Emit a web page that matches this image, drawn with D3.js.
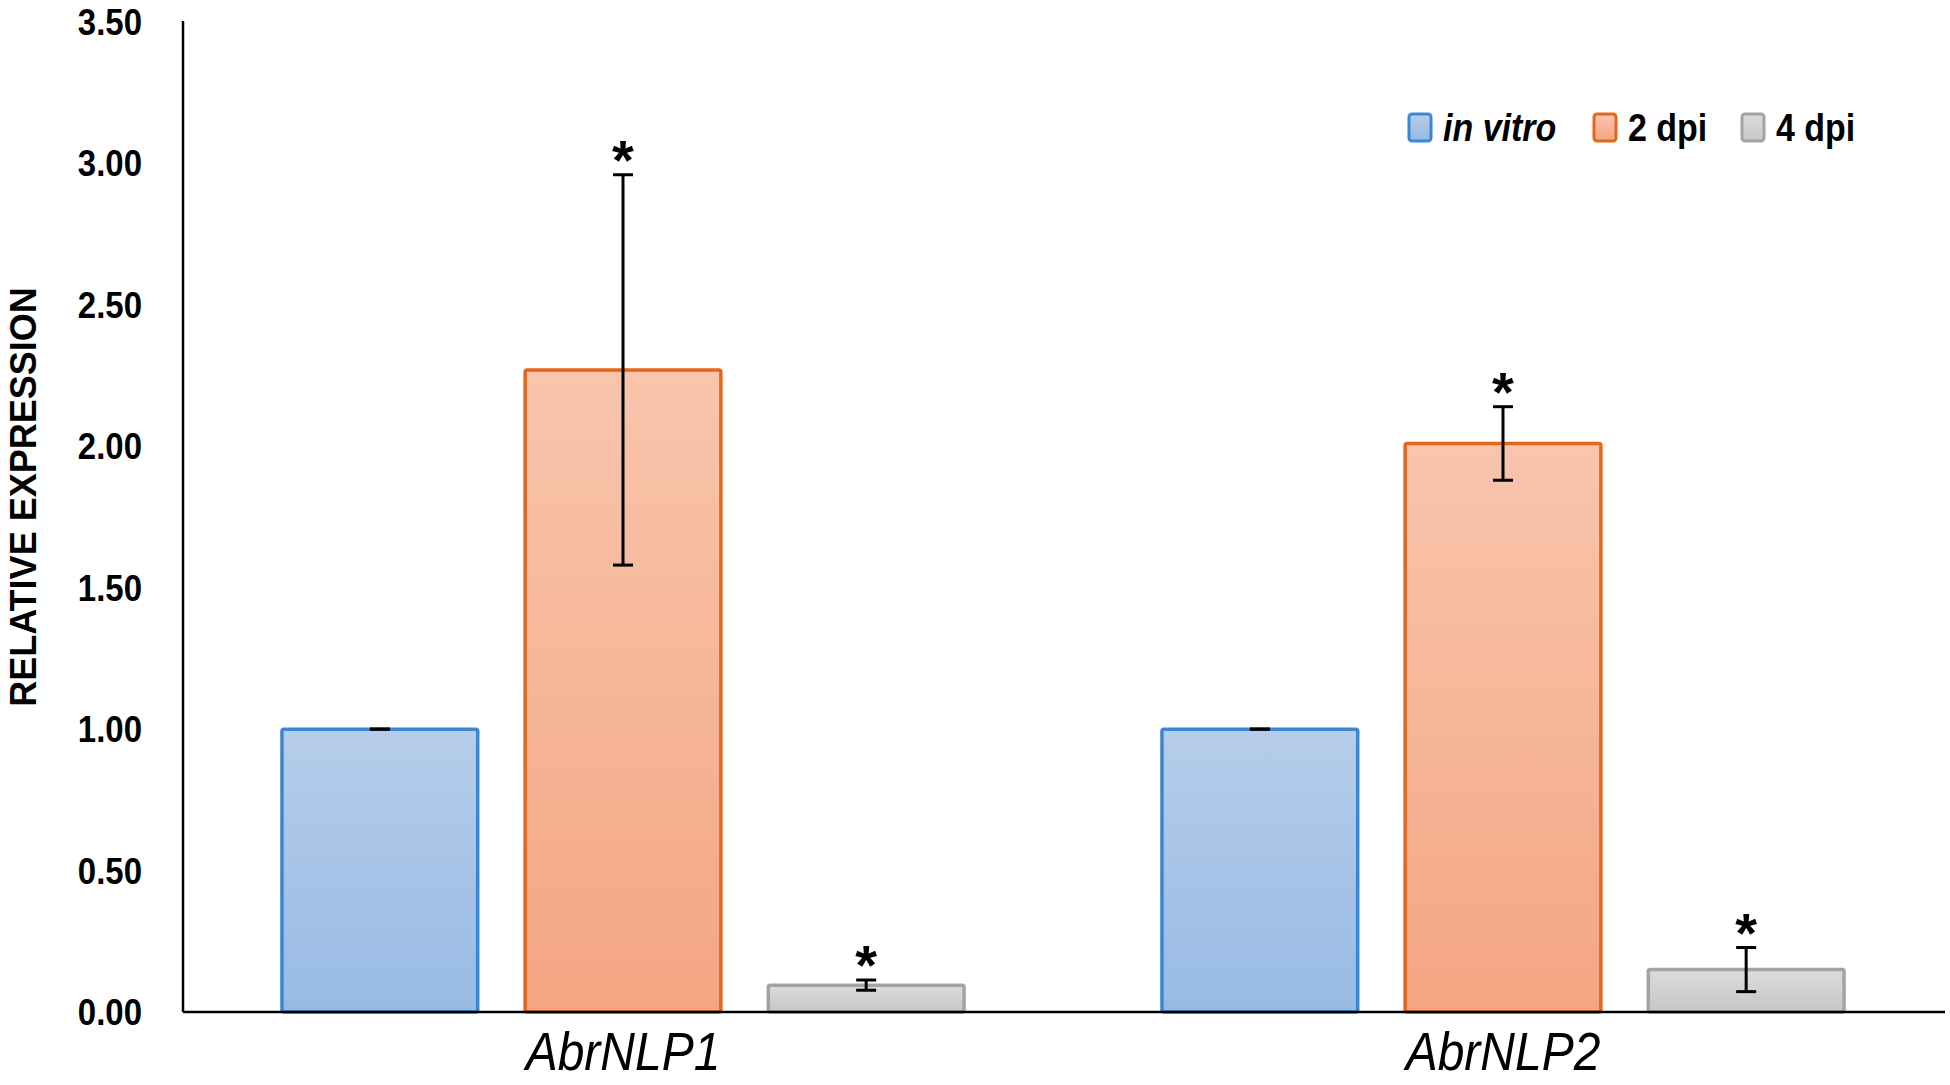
<!DOCTYPE html>
<html>
<head>
<meta charset="utf-8">
<script src="https://cdn.jsdelivr.net/npm/d3@7"></script>
<style>
  body { margin: 0; background: #fff; }
  text { font-family: Arial, "Liberation Sans", sans-serif; }
</style>
</head>
<body>
<div id="chart-area"></div>
<script>
// data
var genes = ["AbrNLP1", "AbrNLP2"];
var series = ["in vitro", "2 dpi", "4 dpi"];
var inVitro = [1.00, 1.00];
var dpi2 = [2.27, 2.01];
var dpi4 = [0.095, 0.15];
var errInVitro = [0.0, 0.0];
var errDpi2 = [0.69, 0.13];
var errDpi4 = [0.018, 0.078];
var starInVitro = [false, false];
var starDpi2 = [true, true];
var starDpi4 = [true, true];
var yTicks = [0, 0.5, 1, 1.5, 2, 2.5, 3, 3.5];

var colors = {
    "in vitro": { top: "#b6cdea", bottom: "#97bae4", line: "#3b87d2" },
    "2 dpi": { top: "#f8c5ad", bottom: "#f4a582", line: "#e4661a" },
    "4 dpi": { top: "#dcdcdc", bottom: "#c6c6c6", line: "#a3a3a3" }
};

var W = 1950, H = 1085;
var margin = { left: 183, right: 5, top: 22, bottom: 73 };
var stretch = 1.12; // text in the figure looks a bit stretched vertically

var svg = d3.select("#chart-area")
    .append("svg")
        .attr("width", W)
        .attr("height", H);

var defs = svg.append("defs");
series.forEach(function(s, i) {
    var grad = defs.append("linearGradient")
        .attr("id", "grad" + i)
        .attr("x1", 0).attr("y1", 0).attr("x2", 0).attr("y2", 1);
    grad.append("stop").attr("offset", "0%").attr("stop-color", colors[s].top);
    grad.append("stop").attr("offset", "100%").attr("stop-color", colors[s].bottom);
});

var y = d3.scaleLinear()
    .domain([0, 3.5])
    .range([H - margin.bottom, margin.top]);

var x0 = d3.scaleBand()
    .domain(genes)
    .range([margin.left, margin.left + 1760]);

var x1 = d3.scaleBand()
    .domain(series)
    .range([0, x0.bandwidth()])
    .paddingInner(0.195)
    .paddingOuter(0.407);

// build rows for drawing
var vals = [inVitro, dpi2, dpi4];
var errs = [errInVitro, errDpi2, errDpi4];
var stars = [starInVitro, starDpi2, starDpi4];
var rows = [];
genes.forEach(function(g, gi) {
    series.forEach(function(s, si) {
        rows.push({ gene: g, series: s, si: si, value: vals[si][gi], err: errs[si][gi], star: stars[si][gi] });
    });
});

function stretchedText(sel, x, yy, txt) {
    return sel.append("text")
        .attr("transform", "translate(" + x + "," + yy + ") scale(1," + stretch + ")")
        .text(txt);
}

// bars
svg.append("g").selectAll("rect")
    .data(rows)
    .join("rect")
        .attr("x", d => x0(d.gene) + x1(d.series))
        .attr("y", d => y(d.value))
        .attr("width", x1.bandwidth())
        .attr("height", d => y(0) - y(d.value))
        .attr("rx", 2)
        .attr("fill", d => "url(#grad" + d.si + ")")
        .attr("stroke", d => colors[d.series].line)
        .attr("stroke-width", 3.5);

// error bars
var eb = svg.append("g").attr("stroke", "#000").attr("stroke-width", 3);
rows.forEach(function(d) {
    var cx = x0(d.gene) + x1(d.series) + x1.bandwidth() / 2;
    var yt = y(d.value + d.err), yb = y(d.value - d.err);
    var cap = 10;
    if (d.err > 0) {
        eb.append("line").attr("x1", cx).attr("x2", cx).attr("y1", yt).attr("y2", yb);
    }
    eb.append("line").attr("x1", cx - cap).attr("x2", cx + cap).attr("y1", yt).attr("y2", yt);
    eb.append("line").attr("x1", cx - cap).attr("x2", cx + cap).attr("y1", yb).attr("y2", yb);
});

// significance stars
svg.append("g").selectAll("text")
    .data(rows.filter(d => d.star))
    .join("text")
        .attr("x", d => x0(d.gene) + x1(d.series) + x1.bandwidth() / 2)
        .attr("y", d => y(d.value + d.err) + 4)
        .attr("text-anchor", "middle")
        .attr("font-size", 56)
        .attr("font-weight", "bold")
        .text("*");

// axes lines
svg.append("line")
    .attr("x1", margin.left).attr("x2", margin.left)
    .attr("y1", y(3.5) - 1).attr("y2", y(0))
    .attr("stroke", "#000").attr("stroke-width", 2.5);
svg.append("line")
    .attr("x1", margin.left).attr("x2", W - margin.right)
    .attr("y1", y(0)).attr("y2", y(0))
    .attr("stroke", "#000").attr("stroke-width", 2.5);

// y tick labels
var tg = svg.append("g")
    .attr("font-size", 33)
    .attr("font-weight", "bold")
    .attr("text-anchor", "end");
yTicks.forEach(function(t) {
    stretchedText(tg, 142, y(t) + 13, d3.format(".2f")(t));
});

// gene labels
var gl = svg.append("g")
    .attr("font-size", 48)
    .attr("font-style", "italic")
    .attr("text-anchor", "middle");
genes.forEach(function(g) {
    stretchedText(gl, x0(g) + x0.bandwidth() / 2, 1070, g);
});

// y title
svg.append("text")
    .attr("transform", "translate(36," + 497 + ") rotate(-90)")
    .attr("text-anchor", "middle")
    .attr("font-size", 36)
    .attr("font-weight", "bold")
    .text("RELATIVE EXPRESSION");

// legend
var legendX = [1409, 1594, 1742];
var lg = svg.append("g").attr("font-size", 34).attr("font-weight", "bold");
series.forEach(function(s, i) {
    lg.append("rect")
        .attr("x", legendX[i]).attr("y", 114)
        .attr("width", 22).attr("height", 27)
        .attr("rx", 3)
        .attr("fill", "url(#grad" + i + ")")
        .attr("stroke", colors[s].line)
        .attr("stroke-width", 3);
    var t = stretchedText(lg, legendX[i] + 34, 141, s);
    if (i == 0) t.attr("font-style", "italic");
});
</script>
</body>
</html>
